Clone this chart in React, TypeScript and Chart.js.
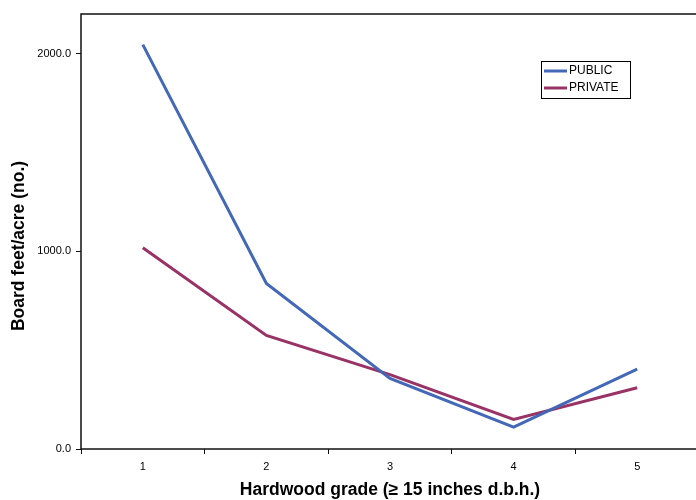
import React, { useEffect, useRef } from "react";
import { Chart, registerables } from "chart.js";

Chart.register(...registerables);

const categories = ["1", "2", "3", "4", "5"];
const publicValues = [2045, 837, 357, 111, 404];
const privateValues = [1018, 574, 376, 150, 310];
const seriesNames = ["PUBLIC", "PRIVATE"];
const yTicks = [0, 1000, 2000];
const xTitle = "Hardwood grade (\u2265 15 inches d.b.h.)";
const yTitle = "Board feet/acre (no.)";

const FONT = "'Liberation Sans', Arial, sans-serif";

const framePlugin = {
  id: "frame",
  afterDatasetsDraw(chart: any) {
    const { ctx, chartArea } = chart;
    ctx.save();
    ctx.strokeStyle = "#111";
    ctx.lineWidth = 1.5;
    ctx.strokeRect(chartArea.left, chartArea.top, chartArea.right - chartArea.left, chartArea.bottom - chartArea.top);
    ctx.restore();
  },
  afterDraw(chart: any) {
    const { ctx } = chart;
    ctx.save();
    // y title
    ctx.translate(19, 246);
    ctx.rotate(-Math.PI / 2);
    ctx.font = `bold 17.5px ${FONT}`;
    ctx.fillStyle = "#000";
    ctx.textAlign = "center";
    ctx.textBaseline = "middle";
    ctx.fillText(yTitle, 0, 0);
    ctx.restore();

    // legend
    ctx.save();
    const bx = 541.5, by = 61.5, bw = 89, bh = 37;
    ctx.fillStyle = "#fff";
    ctx.fillRect(bx, by, bw, bh);
    ctx.strokeStyle = "#000";
    ctx.lineWidth = 1;
    ctx.strokeRect(bx, by, bw, bh);
    ctx.font = `12px ${FONT}`;
    ctx.textBaseline = "middle";
    ctx.textAlign = "left";
    chart.data.datasets.forEach((ds: any, i: number) => {
      const y = 71 + i * 17;
      ctx.strokeStyle = ds.borderColor;
      ctx.lineWidth = 3;
      ctx.beginPath();
      ctx.moveTo(544, y);
      ctx.lineTo(567, y);
      ctx.stroke();
      ctx.fillStyle = "#000";
      ctx.fillText(ds.label, 569, y);
    });
    ctx.restore();
  },
};

export default function App() {
  const ref = useRef<HTMLCanvasElement | null>(null);
  useEffect(() => {
    if (!ref.current) return;
    const chart = new Chart(ref.current, {
      type: "line",
      data: {
        labels: categories,
        datasets: [
          {
            label: seriesNames[0],
            data: publicValues,
            borderColor: "#4468B8",
            borderWidth: 3,
            pointRadius: 0,
            tension: 0,
          },
          {
            label: seriesNames[1],
            data: privateValues,
            borderColor: "#993366",
            borderWidth: 3,
            pointRadius: 0,
            tension: 0,
          },
        ],
      },
      options: {
        animation: false,
        responsive: false,
        layout: { padding: { top: 14, right: 1, left: 0, bottom: 0 } },
        plugins: { legend: { display: false }, tooltip: { enabled: false } },
        scales: {
          x: {
            offset: true,
            grid: { display: true, drawOnChartArea: false, offset: true, tickLength: 5, color: "#111", lineWidth: 1 },
            border: { display: false },
            ticks: { font: { family: FONT, size: 11 }, color: "#000", padding: 6, maxRotation: 0 },
            title: { display: true, text: xTitle, font: { family: FONT, size: 17.5, weight: "bold" }, color: "#000", padding: { top: 0, bottom: -1 } },
            afterFit: (s: any) => { s.height = 51; },
          },
          y: {
            min: 0,
            max: 2200,
            afterBuildTicks: (s: any) => { s.ticks = yTicks.map((v) => ({ value: v })); },
            grid: { display: true, drawOnChartArea: false, tickLength: 5, color: "#111", lineWidth: 1 },
            border: { display: false },
            ticks: { font: { family: FONT, size: 11 }, color: "#000", padding: 5, callback: (v: any) => Number(v).toFixed(1) },
            afterFit: (s: any) => { s.width = 81; },
          },
        },
      },
      plugins: [framePlugin],
    });
    return () => chart.destroy();
  }, []);
  return (
    <div style={{ position: "fixed", left: 0, top: 0, width: 700, height: 500, background: "#fff" }}>
      <canvas ref={ref} width={700} height={500} style={{ width: 700, height: 500, display: "block" }} />
    </div>
  );
}
